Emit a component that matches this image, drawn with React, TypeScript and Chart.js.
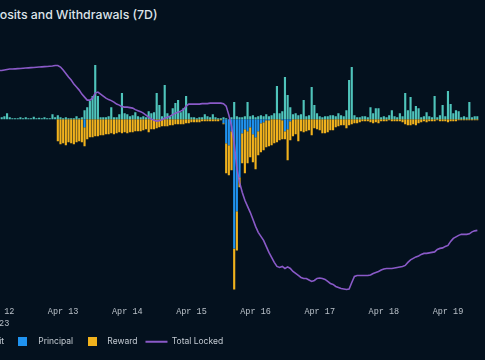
import React, { useEffect, useRef } from "react";
import { Chart, registerables } from "chart.js";

Chart.register(...registerables);

const BG = "#04111e";
const DEPOSIT_COLOR = "#4fc4bb";
const PRINCIPAL_COLOR = "#2093f0";
const REWARD_COLOR = "#f1b21d";
const LOCKED_COLOR = "#8a5ac8";

const TITLE = "Deposits and Withdrawals (7D)";
const YEAR = "2023";
const dayLabels = ["Apr 12", "Apr 13", "Apr 14", "Apr 15", "Apr 16", "Apr 17", "Apr 18", "Apr 19"];
const HOURS_SHOWN = 180;

// hourly categories built from the day labels
const hourLabels: string[] = [];
dayLabels.forEach((d) => {
  for (let h = 0; h < 24; h++) hourLabels.push(`${d} ${String(h).padStart(2, "0")}:00`);
});
const categories = hourLabels.slice(0, HOURS_SHOWN);

const deposit = [
  0, 2, 3, 6, 2, 1, 1, 1, 2, 1, 2, 1, 1, 2.5, 1, 1.5, 1, 2, 1, 1, 5, 2, 4, 2,
  1, 2, 1, 1, 1, 3, 1, 2, 9, 12, 18, 23, 54, 23, 2, 2, 2, 3, 12, 2, 2, 5, 26, 6,
  5, 3, 4, 7, 3, 2, 3, 2, 8, 6, 7, 26, 14, 3, 34, 6, 3, 11, 16, 19, 7, 11, 23, 6,
  2, 2, 1, 2, 2, 5, 3, 2, 5, 2, 1, 1, 2, 1, 0, 2, 17, 3, 2, 2, 3, 17, 3, 4,
  2, 3, 4, 3, 5, 3, 4, 6, 33, 6, 8, 42, 24, 12, 5, 6, 4, 5, 19, 3, 4, 32, 14, 6,
  3, 2, 3, 3, 4, 4, 3, 6, 4, 3, 9, 39, 52, 4, 2, 2, 3, 3, 2, 12, 6, 11, 11, 2,
  3, 2, 4, 9, 3, 2, 6, 3, 26, 9, 22, 8, 13, 11, 2, 3, 7, 3, 2, 23, 2, 4, 14, 3,
  28, 15, 6, 9, 8, 2, 3, 2, 17, 2, 3, 3,
];

const principal = [
  0, 0, 0, 0, 0, 0, 0, 0, 0, 0, 0, 0, 0, 0, 0, 0, 0, 0, 0, 0, 0, 0, 0, 0,
  0, 0, 0, 0, 0, 0, 0, 0, -8, 0, 0, 0, 0, 0, 0, 0, 0, 0, 0, 0, 0, 0, 0, 0,
  0, 0, 0, 0, 0, 0, 0, 0, 0, 0, 0, 0, 0, 0, 0, 0, 0, 0, 0, 0, 0, 0, 0, 0,
  0, 0, 0, 0, 0, 0, 0, 0, 0, 0, 0, 0, -4, -24, -26, -12, -129, -92, -58, -14, -10, -12, -8, -15,
  -18, -12, -4, -3, -1, -1, 0, 0, 0, 0, -1, -12, -10, -2, 0, 0, 0, 0, 0, 0, 0, 0, 0, 0,
  0, 0, 0, 0, 0, 0, 0, 0, 0, 0, 0, 0, 0, 0, 0, 0, 0, 0, 0, 0, 0, 0, 0, 0,
  0, 0, 0, 0, 0, 0, 0, 0, 0, 0, 0, 0, 0, 0, 0, 0, 0, 0, 0, 0, 0, 0, 0, 0,
  0, 0, 0, 0, 0, 0, 0, 0, 0, 0, 0, 0,
];

const reward = [
  0, 0, 0, 0, 0, 0, 0, 0, 0, 0, 0, 0, 0, 0, 0, 0, 0, 0, 0, 0, 0, 0, -22, -25,
  -24, -26, -23, -24, -25, -23, -22, -23, -19, -20, -18, -18, -17, -17, -16, -16, -15, -15, -14, -15, -14, -13, -14, -13,
  -14, -13, -13, -12, -12, -12, -11, -10, -13, -10, -10, -9, -8, -7, -7, -7, -6, -6, -5, -5, -5, -5, -4, -4,
  -3, -3, -3, -3, -2, -2, -2, -2, -2, -2, -2, -1, -1, -30, -30, -39, -41, -39, -10, -30, -44, -32, -30, -28,
  -32, -24, -29, -28, -27, -26, -26, -24, -23, -21, -19, -8, -31, -19, -17, -15, -22, -12, -13, -12, -11, -16, -9, -10,
  -11, -14, -14, -13, -11, -11, -8, -7, -6, -6, -9, -6, -5, -4, -4, -3, -2, -2, -2, -3, -4, -3, -4, -2,
  -2, -2, -1, -2, -2, -2, -2, -3, -5, -6, -6, -5, -6, -4, -3, -2, -3, -2, -2, -2, -1, -2, -2, -2,
  -3, -2, -2, -2, -1, -1, -1, -1, -1, -1, -1, -1,
];

const totalLocked = [
  229.5, 229.5, 230, 230.5, 231, 231, 231.2, 231.4, 231.6, 231.8, 232, 232.2, 232.4, 232.6, 232.8, 233, 233.2, 233.4, 233.6, 233.8, 234, 234.5, 234.5, 233,
  230, 226.5, 223, 220, 216, 213, 210, 206, 203, 200, 200, 202, 207, 208, 206, 204, 202, 200.5, 199.5, 198, 196, 195, 193.5, 193,
  193, 192.5, 192, 190.5, 189.5, 188.5, 187, 185, 183, 181, 180, 179, 179.5, 180.5, 182, 183, 184, 185.5, 187, 188, 189, 190.5, 194, 196,
  196, 196, 196, 196, 196.5, 196.5, 196.5, 197, 197, 197, 197, 197, 196.5, 194, 185, 174, 157, 132, 118, 108, 100, 94, 88, 81,
  74, 68, 64, 60, 54, 48, 43, 38, 34, 33, 34, 32, 33.5, 32, 29, 27, 25, 23, 22, 22, 20.5, 19, 20, 22,
  22.5, 22, 21, 19, 17, 16, 14, 13, 12, 11.5, 11, 11.5, 18, 24, 25, 25, 25, 25, 25, 25.5, 27, 28, 29, 30.5,
  31.5, 32, 32, 32, 32.5, 33, 33.5, 34, 35, 38, 40.5, 42, 43.5, 44.5, 46, 47, 47, 47.5, 48, 48.5, 51, 52, 52.5, 54,
  55, 59, 62, 63.5, 65, 66, 66, 66, 66.5, 68.5, 69.5, 70,
];

const seriesNames = ["Deposit", "Principal", "Reward", "Total Locked"];

function makeSquare(color: string, size: number) {
  const c = document.createElement("canvas");
  c.width = size;
  c.height = size;
  const g = c.getContext("2d")!;
  g.fillStyle = color;
  g.fillRect(0, 0, size, size);
  return c;
}

export default function App() {
  const ref = useRef<HTMLCanvasElement | null>(null);

  useEffect(() => {
    document.body.style.background = BG;
    document.documentElement.style.background = BG;
    if (!ref.current) return;
    const squares = [
      makeSquare(DEPOSIT_COLOR, 9),
      makeSquare(PRINCIPAL_COLOR, 9),
      makeSquare(REWARD_COLOR, 9),
    ];
    const barCommon = {
      borderWidth: 0,
      barPercentage: 1,
      categoryPercentage: 0.8,
      yAxisID: "y",
      order: 1,
    };
    const chart = new Chart(ref.current, {
      type: "bar",
      data: {
        labels: categories,
        datasets: [
          { label: seriesNames[0], data: deposit, backgroundColor: DEPOSIT_COLOR, ...barCommon },
          { label: seriesNames[1], data: principal, backgroundColor: PRINCIPAL_COLOR, ...barCommon },
          { label: seriesNames[2], data: reward, backgroundColor: REWARD_COLOR, ...barCommon },
          {
            type: "line",
            label: seriesNames[3],
            data: totalLocked,
            borderColor: LOCKED_COLOR,
            backgroundColor: LOCKED_COLOR,
            borderWidth: 1.6,
            pointRadius: 0,
            tension: 0,
            yAxisID: "y2",
            order: 0,
          } as any,
        ],
      },
      options: {
        animation: false,
        responsive: true,
        maintainAspectRatio: false,
        events: [],
        layout: { padding: { left: 9, right: 6.3, top: 40, bottom: 4 } },
        plugins: {
          title: { display: false },
          tooltip: { enabled: false },
          legend: {
            display: true,
            position: "bottom",
            align: "start",
            labels: {
              usePointStyle: true,
              pointStyleWidth: 22,
              padding: 8,
              color: "#c3cad2",
              font: { family: "Inter", size: 8.5 },
              generateLabels: (c: any) => {
                const items = (Chart.defaults.plugins.legend.labels as any).generateLabels(c);
                items.sort((a: any, b: any) => a.datasetIndex - b.datasetIndex);
                items.forEach((it: any) => {
                  if (it.datasetIndex < 3) {
                    it.pointStyle = squares[it.datasetIndex];
                  } else {
                    it.pointStyle = "line";
                    it.strokeStyle = LOCKED_COLOR;
                    it.lineWidth = 2;
                  }
                });
                return items;
              },
            },
          },
        },
        scales: {
          x: {
            stacked: true,
            grid: { display: false, drawTicks: false },
            border: { display: false },
            ticks: {
              autoSkip: false,
              maxRotation: 0,
              minRotation: 0,
              padding: 0,
              color: "#b9c0c8",
              font: { family: "'Liberation Mono', monospace", size: 8.5, lineHeight: 12 / 8.5 },
              callback: (_v: any, i: number) => {
                if (i % 24 !== 0) return null;
                const day = dayLabels[i / 24];
                return i === 0 ? [day, YEAR] : day;
              },
            },
          },
          y: {
            stacked: true,
            min: -186,
            max: 79,
            grid: { display: false },
            border: { display: false },
            ticks: { display: false },
            afterFit: (s: any) => {
              s.width = 58.7;
            },
          },
          y2: {
            display: false,
            position: "right",
            min: -5,
            max: 260,
          },
        },
      },
    });
    return () => chart.destroy();
  }, []);

  return (
    <div
      style={{
        position: "fixed",
        left: 0,
        top: 0,
        width: 485,
        height: 360,
        background: BG,
        overflow: "hidden",
      }}
    >
      <div
        style={{
          position: "absolute",
          left: -24,
          top: 7,
          font: "500 12.3px Inter, sans-serif",
          lineHeight: "16px",
          color: "#dde3e9",
          whiteSpace: "nowrap",
        }}
      >
        {TITLE}
      </div>
      <div style={{ position: "absolute", left: -70, top: 0, width: 555, height: 360 }}>
        <canvas ref={ref} />
      </div>
    </div>
  );
}
